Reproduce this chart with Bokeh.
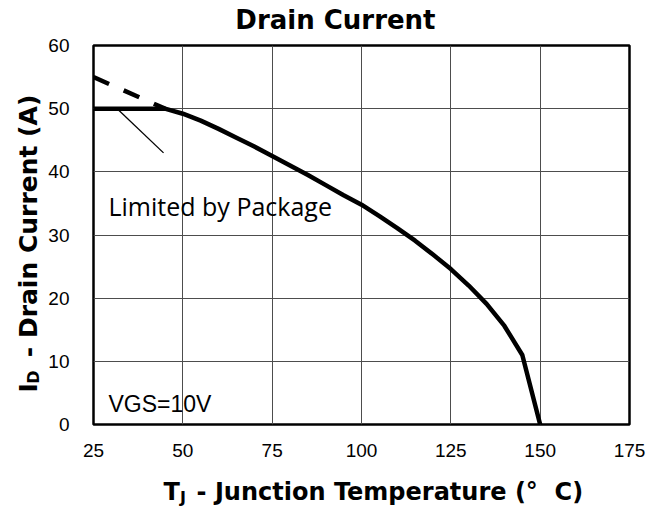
import math
from bokeh.plotting import figure
from bokeh.models import Label, FixedTicker, Range1d
from bokeh.embed import file_html
from bokeh.resources import INLINE

# ---- data ----
temp_solid = [25, 45, 50, 55, 60, 65, 70, 75, 80, 85, 90, 95, 100, 105, 110,
              115, 120, 125, 130, 135, 140, 145, 150]
current_solid = [50.0, 50.0, 49.2, 48.1, 46.8, 45.4, 44.0, 42.5, 41.0, 39.5, 37.9,
                 36.3, 34.8, 33.0, 31.1, 29.1, 26.9, 24.6, 22.0, 19.1, 15.6, 11.0, 0.0]
temp_dashed = [25, 45]
current_dashed = [55.0, 50.0]
pointer_temp = [32.0, 44.6]
pointer_current = [49.8, 43.0]
x_ticks = [25, 50, 75, 100, 125, 150, 175]
y_ticks = [0, 10, 20, 30, 40, 50, 60]

NB = "\u00a0"

p = figure(width=661, height=516, output_backend="svg", toolbar_location=None,
           x_range=Range1d(25, 175), y_range=Range1d(0, 60),
           min_border_left=93, min_border_right=32, min_border_top=45,
           min_border_bottom=92)
p.background_fill_color = "white"
p.border_fill_color = "white"
p.outline_line_color = "black"
p.outline_line_width = 2.5

for ax, ticks in ((p.xaxis[0], x_ticks), (p.yaxis[0], y_ticks)):
    ax.ticker = FixedTicker(ticks=ticks)
    ax.axis_line_color = None
    ax.major_tick_line_color = None
    ax.minor_tick_line_color = None
    ax.major_tick_out = 0
    ax.major_tick_in = 0
    ax.minor_tick_out = 0
    ax.minor_tick_in = 0
    ax.major_label_text_font = "Liberation Sans"
    ax.major_label_text_font_size = "19px"
    ax.major_label_text_color = "black"
p.xaxis.major_label_standoff = 19
p.yaxis.major_label_standoff = 24

p.xgrid.ticker = FixedTicker(ticks=x_ticks)
p.ygrid.ticker = FixedTicker(ticks=y_ticks)
p.grid.grid_line_color = "#4d4d4d"
p.grid.grid_line_width = 1

p.line(temp_dashed, current_dashed, line_color="black", line_width=4.5,
       line_dash="17 16")
p.line(temp_solid, current_solid, line_color="black", line_width=4.5,
       line_join="round")
p.line(pointer_temp, pointer_current, line_color="black", line_width=1.3)

p.add_layout(Label(x=29.2, y=34.6, text="Limited by Package", text_font="Open Sans",
                   text_font_size="25px", text_color="black",
                   text_baseline="alphabetic", text_align="left"))
p.add_layout(Label(x=29.2, y=3.2, text="VGS=10V", text_font="Liberation Sans",
                   text_font_size="23px", text_color="black",
                   text_baseline="alphabetic", text_align="left"))

bold = dict(text_font="DejaVu Sans", text_font_style="bold", text_color="black",
            text_baseline="alphabetic", text_align="left")

# title (side panels, so the frame does not clip these texts)
p.add_layout(Label(x=92.7, y=63.96, text="Drain Current", text_font_size="26px",
                   **{**bold, "text_align": "center"}), "above")
# x axis label: T with subscript J
p.add_layout(Label(x=44.6, y=-10.76,
                   text="T" + NB + NB + "-" + NB + "Junction Temperature (°" + NB + NB + "C)",
                   text_font_size="24px", **bold), "below")
p.add_layout(Label(x=49.2, y=-11.55, text="J", text_font_size="16px", **bold), "below")
# y axis label: I with subscript D
p.add_layout(Label(x=6.81, y=5.05, angle=math.pi / 2,
                   text="I" + NB + NB + NB + "-" + NB + "Drain Current (A)",
                   text_font_size="25px", **bold), "left")
p.add_layout(Label(x=8.21, y=6.47, angle=math.pi / 2, text="D",
                   text_font_size="16px", **bold), "right")

open("out.html", "w").write(file_html(p, INLINE))
